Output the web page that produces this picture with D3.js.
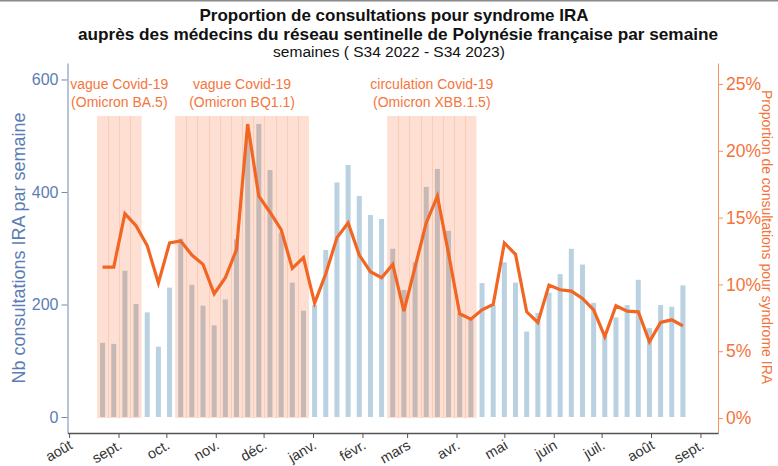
<!DOCTYPE html>
<html>
<head>
<meta charset="utf-8">
<script src="https://cdn.jsdelivr.net/npm/d3@7"></script>
<style>
  body { margin: 0; background: #fff; }
  svg { display: block; font-family: "Liberation Sans", Arial, sans-serif; }
</style>
</head>
<body>
<div id="chart"></div>
<script>
// weekly data, S34 2022 -> S34 2023 (first monday of the series)
var firstWeek = "2022-08-22";

// Nb consultations IRA per week (bars, left axis)
var counts = [132, 130, 260, 201, 186, 125, 230, 317, 235, 198, 163, 209, 316, 500, 521,
  439, 328, 239, 189, 199, 297, 417, 448, 393, 359, 352, 299, 226, 275, 409, 441, 331,
  185, 176, 238, 199, 275, 239, 152, 185, 221, 254, 299, 271, 203, 145, 177, 199, 244,
  158, 199, 196, 234];

// proportion of IRA consultations, % (line, right axis)
var rates = [11.3, 11.3, 15.3, 14.4, 12.9, 10.1, 13.1, 13.25, 12.2, 11.5, 9.3, 10.5, 12.6,
  22.0, 16.6, 15.4, 14.1, 11.2, 12.0, 8.6, 10.8, 13.5, 14.6, 12.2, 10.95, 10.5, 11.5, 8.0,
  11.3, 14.6, 16.6, 12.3, 7.8, 7.4, 8.1, 8.5, 13.1, 12.25, 7.95, 7.15, 9.95, 9.6, 9.5, 8.95,
  8.1, 6.1, 8.4, 8.0, 7.95, 5.7, 7.15, 7.35, 6.9];

var monthLabels = ["août", "sept.", "oct.", "nov.", "déc.", "janv.", "févr.", "mars",
  "avr.", "mai", "juin", "juil.", "août", "sept."];

// covid waves (index of first / last week in the band)
var waveFirst = [0, 7, 26];
var waveLast = [3, 18, 33];
var waveTitles = ["vague Covid-19", "vague Covid-19", "circulation Covid-19"];
var waveVariants = ["(Omicron BA.5)", "(Omicron BQ1.1)", "(Omicron XBB.1.5)"];
var waveTop = 535;

var leftTicks = [0, 200, 400, 600];
var rightTicks = [0, 5, 10, 15, 20, 25];

var width = 778, height = 466;
var margin = {left: 67.5, right: 60, top: 63, bottom: 33};

var parse = d3.timeParse("%Y-%m-%d");
var start = parse(firstWeek);
var weeks = counts.map(function(d, i) { return d3.timeDay.offset(start, 7 * i); });

var svg = d3.select("#chart").append("svg")
  .attr("width", width)
  .attr("height", height);

svg.append("rect").attr("x", 0).attr("y", 0).attr("width", width).attr("height", 1.5)
  .attr("fill", "#8a8a8a");

var x = d3.scaleTime()
  .domain([parse("2022-07-31"), parse("2023-09-12")])
  .range([margin.left, width - margin.right]);

var yLeft = d3.scaleLinear()
  .domain([-28.4, 629.3])
  .range([height - margin.bottom, margin.top]);

var yRight = d3.scaleLinear()
  .domain([-1.12, 26.57])
  .range([height - margin.bottom, margin.top]);

function inWave(i) {
  for (var k = 0; k < waveFirst.length; k++) {
    if (i >= waveFirst[k] && i <= waveLast[k]) return true;
  }
  return false;
}

function half(d, sign) { return d3.timeHour.offset(d, sign * 84); }

// wave bands
var bands = svg.append("g");
waveFirst.forEach(function(f, k) {
  var x0 = x(half(weeks[f], -1)), x1 = x(half(weeks[waveLast[k]], 1));
  bands.append("rect")
    .attr("x", x0)
    .attr("y", yLeft(waveTop))
    .attr("width", x1 - x0)
    .attr("height", yLeft(0) + 1 - yLeft(waveTop))
    .attr("fill", "#fde0d3");
  // separation between weeks
  for (var i = f; i < waveLast[k]; i++) {
    var xs = Math.round(x(half(weeks[i], 1))) + 0.5;
    bands.append("line")
      .attr("x1", xs).attr("x2", xs)
      .attr("y1", yLeft(waveTop)).attr("y2", yLeft(0) + 1)
      .attr("stroke", "#f9ccb5")
      .attr("stroke-width", 1);
  }
  var cx = (x0 + x1) / 2;
  bands.append("text")
    .attr("x", cx).attr("y", 89)
    .attr("text-anchor", "middle")
    .attr("font-size", "14px")
    .attr("fill", "#f4763c")
    .text(waveTitles[k]);
  bands.append("text")
    .attr("x", cx).attr("y", 107)
    .attr("text-anchor", "middle")
    .attr("font-size", "14px")
    .attr("fill", "#f4763c")
    .text(waveVariants[k]);
});

// bars
var barW = 5;
svg.append("g").selectAll("rect")
  .data(counts)
  .enter().append("rect")
  .attr("x", function(d, i) { return x(weeks[i]) - barW / 2; })
  .attr("y", function(d) { return yLeft(d); })
  .attr("width", barW)
  .attr("height", function(d) { return yLeft(0) - yLeft(d); })
  .attr("fill", function(d, i) { return inWave(i) ? "#c6b9b5" : "#b9d1e0"; });

// proportion line
var line = d3.line()
  .x(function(d, i) { return x(weeks[i]); })
  .y(function(d) { return yRight(d); });

svg.append("path")
  .datum(rates)
  .attr("d", line)
  .attr("fill", "none")
  .attr("stroke", "#f26522")
  .attr("stroke-width", 3.2)
  .attr("stroke-linejoin", "miter");

// axes
var gLeft = svg.append("g")
  .attr("transform", "translate(" + margin.left + ",0)")
  .call(d3.axisLeft(yLeft).tickValues(leftTicks).tickSize(6).tickSizeOuter(0).tickPadding(3));
gLeft.selectAll("path, line").attr("stroke", "#6f8ab5");
gLeft.selectAll("text").attr("fill", "#5b7db3").attr("font-size", "16px")
  .attr("font-family", "Liberation Sans, Arial, sans-serif");

var gRight = svg.append("g")
  .attr("transform", "translate(" + (width - margin.right) + ",0)")
  .call(d3.axisRight(yRight).tickValues(rightTicks).tickSize(5).tickSizeOuter(0).tickPadding(3)
    .tickFormat(function(d) { return d + "%"; }));
gRight.selectAll("path, line").attr("stroke", "#f7935a");
gRight.selectAll("text").attr("fill", "#f4733a").attr("font-size", "17.5px")
  .attr("font-family", "Liberation Sans, Arial, sans-serif");

var months = d3.timeMonth.range(parse("2022-08-01"), parse("2023-09-02"));
var gX = svg.append("g")
  .attr("transform", "translate(0," + (height - margin.bottom) + ")")
  .call(d3.axisBottom(x).tickValues(months).tickSize(5).tickSizeOuter(0)
    .tickFormat(function(d, i) { return monthLabels[i]; }));
gX.select("path").attr("stroke", "#555").attr("stroke-width", 1.5);
gX.selectAll("line").attr("stroke", "#555");
gX.selectAll("text")
  .attr("fill", "#333")
  .attr("font-size", "14.5px")
  .attr("font-family", "Liberation Sans, Arial, sans-serif")
  .attr("text-anchor", "end")
  .attr("dy", null)
  .attr("y", 0)
  .attr("transform", "translate(4,15) rotate(-30)");

// axis titles
svg.append("text")
  .attr("transform", "translate(25," + 248 + ") rotate(-90)")
  .attr("text-anchor", "middle")
  .attr("font-size", "18px")
  .attr("fill", "#5b7db3")
  .text("Nb consultations IRA par semaine");

svg.append("text")
  .attr("transform", "translate(762," + 237 + ") rotate(90)")
  .attr("text-anchor", "middle")
  .attr("font-size", "14px")
  .attr("fill", "#f4733a")
  .text("Proportion de consultations pour syndrome IRA");

// titles
svg.append("text")
  .attr("x", 394).attr("y", 20.5)
  .attr("text-anchor", "middle")
  .attr("font-size", "17px")
  .attr("font-weight", "bold")
  .attr("fill", "#111")
  .text("Proportion de consultations pour syndrome IRA");
svg.append("text")
  .attr("x", 398).attr("y", 39.5)
  .attr("text-anchor", "middle")
  .attr("font-size", "17.2px")
  .attr("font-weight", "bold")
  .attr("fill", "#111")
  .text("auprès des médecins du réseau sentinelle de Polynésie française par semaine");
svg.append("text")
  .attr("x", 389).attr("y", 57)
  .attr("text-anchor", "middle")
  .attr("font-size", "15.5px")
  .attr("fill", "#111")
  .text("semaines ( S34 2022 - S34 2023)");
</script>
</body>
</html>
